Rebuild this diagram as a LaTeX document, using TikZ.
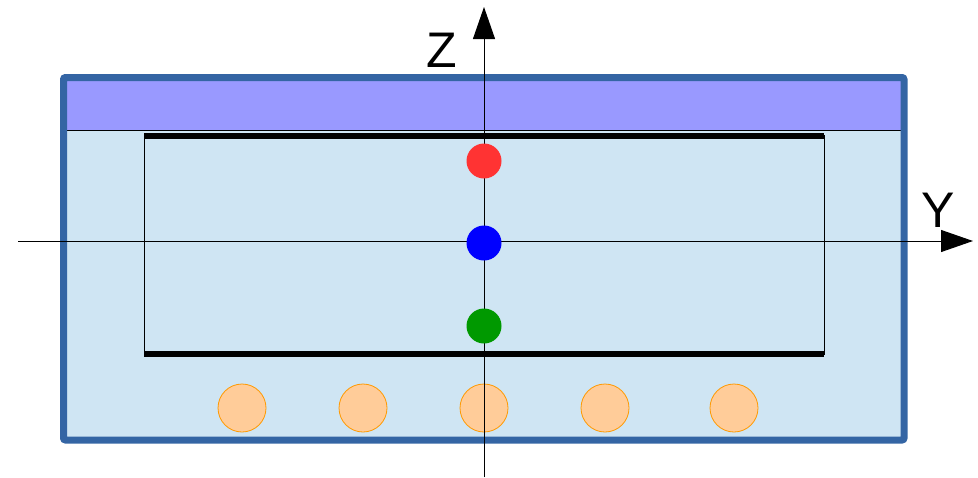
\documentclass[tikz,border=0pt]{standalone}
\usepackage{fontspec}
\setmainfont{Liberation Sans}
\usetikzlibrary{arrows.meta}
\definecolor{frameblue}{HTML}{3465A4}
\definecolor{lightfill}{HTML}{CFE5F3}
\definecolor{bandpurple}{HTML}{9999FF}
\definecolor{dotred}{HTML}{FF3333}
\definecolor{dotblue}{HTML}{0000FF}
\definecolor{dotgreen}{HTML}{009900}
\definecolor{rodfill}{HTML}{FFCC99}
\definecolor{rodline}{HTML}{FF9900}
\tikzset{
  axisline/.style={line width=1pt,-{Triangle[length=32pt,width=22pt]}},
  dotnode/.style={circle,inner sep=0pt,minimum size=35pt},
  rodnode/.style={circle,inner sep=0pt,minimum size=48pt,fill=rodfill,draw=rodline,line width=0.8pt},
  plate/.style={line width=6pt,line cap=butt},
  axislabel/.style={font=\fontsize{50}{50}\selectfont,inner sep=0pt}
}
\begin{document}
\begin{tikzpicture}[x=1pt,y=-1pt]
\useasboundingbox (0,0) rectangle (978,477);
% outer box
\fill[lightfill] (63.5,77.5) rectangle (904,440);
\fill[bandpurple] (63.5,77.5) rectangle (904,130);
\draw[line width=1pt] (63.5,130) -- (904,130);
\draw[frameblue,line width=7pt,rounded corners=2pt] (63.5,77.5) rectangle (904,440);
% inner box
\draw[line width=1pt] (144,135.5) rectangle (824,354);
\draw[plate] (144,135.5) -- (824,135.5);
\draw[plate] (144,354) -- (824,354);
% rods
\foreach \x/\n in {242/r1,363/r2,484/r3,605/r4,734/r5}
  \node[rodnode] (\n) at (\x,408) {};
% axes
\coordinate (zbot) at (484,477);
\coordinate (ztop) at (484,7);
\coordinate (yleft) at (18,241);
\coordinate (yright) at (973,241);
\draw[axisline] (zbot) -- (ztop);
\draw[axisline] (yleft) -- (yright);
\node[axislabel] (zlab) at (442,50) {Z};
\node[axislabel] (ylab) at (938,210) {Y};
% dots
\node[dotnode,fill=dotred] (red) at (484,161) {};
\node[dotnode,fill=dotblue] (blue) at (484,243) {};
\node[dotnode,fill=dotgreen] (green) at (484,326) {};
\end{tikzpicture}
\end{document}
